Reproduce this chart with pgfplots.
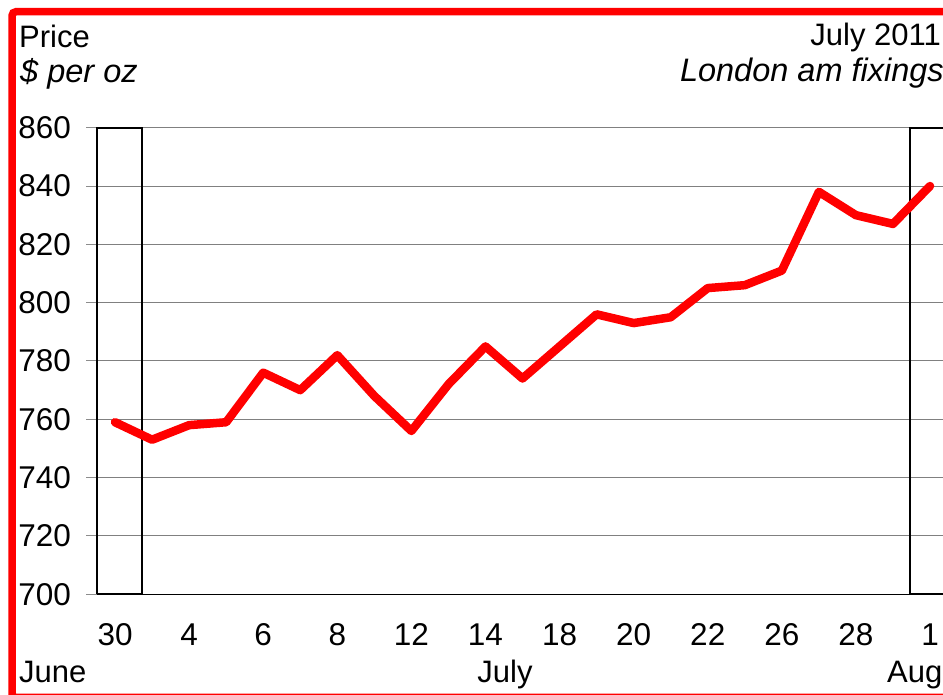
\documentclass[border=0pt]{standalone}
\usepackage{pgfplots}
\pgfplotsset{compat=1.18}
\usepackage{fontspec}
\setmainfont{Liberation Sans}
\begin{document}
\begin{tikzpicture}[x=1pt,y=1pt]
\clip (0,0) rectangle (943,695);
\fill[white] (0,0) rectangle (943,695);
\draw[red, line width=7.5pt, rounded corners=4pt] (12,683.3) rectangle (960,-2.5);
\begin{axis}[
  at={(96.5pt,100.7pt)}, anchor=south west,
  scale only axis, width=846.5pt, height=466.6pt,
  xmin=-0.5, xmax=22.35, ymin=700, ymax=860,
  clip=false,
  axis x line*=bottom, axis y line*=left,
  x axis line style={black, line width=1.2pt, -},
  y axis line style={black!45, line width=1pt, -},
  xtick={0,2,...,22},
  xticklabels={30,4,6,8,12,14,18,20,22,26,28,1},
  ytick={700,720,...,860},
  tick align=outside,
  major tick length=10pt,
  xtick style={draw=none},
  ytick style={black!45, line width=1pt},
  ymajorgrids,
  grid style={black!50, line width=1pt},
  /pgf/number format/assume math mode=true,
  /pgf/number format/1000 sep={},
  tick label style={font=\fontsize{31.5}{37}\selectfont},
  xticklabel style={anchor=base, yshift=-41pt},
  yticklabel style={anchor=east, xshift=-12pt},
]
\addplot[black, line width=2pt] coordinates {(-0.5,700) (-0.5,860) (0.72,860) (0.72,700) (-0.5,700)};
\addplot[black, line width=2pt] coordinates {(23.5,700) (21.46,700) (21.46,860) (23.5,860)};
\addplot[red, line width=8.5pt, line join=round, line cap=round] coordinates {
(0,759) (1,753) (2,758) (3,759) (4,776) (5,770) (6,782) (7,768) (8,756)
(9,772) (10,785) (11,774) (12,785) (13,796) (14,793) (15,795) (16,805)
(17,806) (18,811) (19,838) (20,830) (21,827) (22,840)};
\end{axis}
\begin{scope}[every node/.style={inner sep=0pt, font=\fontsize{31}{37}\selectfont}]
\node[anchor=base west] at (19,647.5) {Price};
\node[anchor=base west] at (20,612) {\fontsize{32.5}{37}\selectfont\itshape\$ per oz};
\node[anchor=base east] at (941,649) {July 2011};
\node[anchor=base east] at (944,613) {\fontsize{32.5}{37}\selectfont\itshape London am fixings};
\node[anchor=base west] at (19,12) {June};
\node[anchor=base] at (505,12) {July};
\node[anchor=base west] at (887,12) {Aug};
\end{scope}
\end{tikzpicture}
\end{document}
